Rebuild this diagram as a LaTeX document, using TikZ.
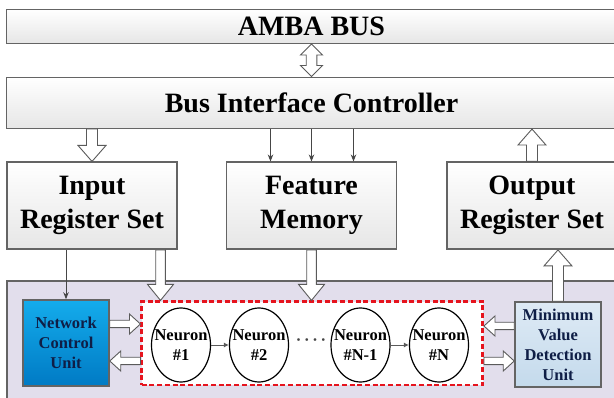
\documentclass[tikz,border=0pt]{standalone}
\usepackage{fontspec}
\setmainfont{Liberation Serif}
\usetikzlibrary{arrows.meta,calc,shapes.geometric}

\definecolor{boxline}{RGB}{100,100,100}
\definecolor{boxgray}{RGB}{230,230,230}
\definecolor{panelfill}{RGB}{226,222,236}
\definecolor{ncutop}{RGB}{20,172,236}
\definecolor{ncubot}{RGB}{0,122,196}
\definecolor{mvdutop}{RGB}{222,234,245}
\definecolor{mvdubot}{RGB}{196,218,236}
\definecolor{unittext}{RGB}{15,30,70}
\definecolor{dashred}{RGB}{230,20,30}
\definecolor{arrline}{RGB}{90,90,90}
\definecolor{wiregray}{RGB}{70,70,70}

\begin{document}
\begin{tikzpicture}[
  x = 1pt, y = -1pt,
  box/.style = {draw = boxline, line width = 1.5pt, top color = white, bottom color = boxgray,
                font = \bfseries\fontsize{28}{34}\selectfont, align = center, inner sep = 0pt},
  unit/.style = {draw = boxline, line width = 1.5pt, text = unittext, align = center, inner sep = 0pt,
                 font = \bfseries\fontsize{16.5}{20}\selectfont},
  neuron/.style = {draw, ellipse, line width = 1.2pt, fill = white, minimum width = 59pt,
                   minimum height = 74pt, inner xsep = -7pt, inner ysep = 0pt, align = center,
                   font = \bfseries\fontsize{16.5}{20}\selectfont},
  wire/.style = {draw = wiregray, line width = 0.9pt, -{Stealth[length = 7pt, width = 5.5pt]}},
  link/.style = {draw = arrline, line width = 0.9pt, -{Latex[length = 5pt, width = 5pt]}},
  blockarrow/.style n args = {3}{draw = arrline, line width = 0.9pt, fill = white,
    to path = {let \p1 = (\tikztostart), \p2 = (\tikztotarget) in
      ($(\p1)!#1!90:(\p2)$) -- ($(\p2)!#3!(\p1)!#1!-90:(\p1)$)
      -- ($(\p2)!#3!(\p1)!#2!-90:(\p1)$) -- (\p2)
      -- ($(\p2)!#3!(\p1)!#2!90:(\p1)$) -- ($(\p2)!#3!(\p1)!#1!90:(\p1)$)
      -- ($(\p1)!#1!-90:(\p2)$) -- cycle}},
  dblockarrow/.style n args = {3}{draw = arrline, line width = 0.9pt, fill = white,
    to path = {let \p1 = (\tikztostart), \p2 = (\tikztotarget) in
      (\p1) -- ($(\p1)!#3!(\p2)!#2!90:(\p2)$) -- ($(\p1)!#3!(\p2)!#1!90:(\p2)$)
      -- ($(\p2)!#3!(\p1)!#1!-90:(\p1)$) -- ($(\p2)!#3!(\p1)!#2!-90:(\p1)$) -- (\p2)
      -- ($(\p2)!#3!(\p1)!#2!90:(\p1)$) -- ($(\p2)!#3!(\p1)!#1!90:(\p1)$)
      -- ($(\p1)!#3!(\p2)!#1!-90:(\p2)$) -- ($(\p1)!#3!(\p2)!#2!-90:(\p2)$) -- cycle}},
  ]
  \useasboundingbox (0,0) rectangle (614,398);
  \clip (0,0) rectangle (614,398);
  \fill[white] (0,0) rectangle (614,398);

  \node[box, minimum width = 610pt, minimum height = 34pt] (amba) at (311.5,26.3) {AMBA BUS};
  \node[box, minimum width = 610pt, minimum height = 51pt] (bic) at (311.5,102.8) {Bus Interface Controller};
  \node[box, minimum width = 170pt, minimum height = 87pt] (inreg) at (92,205.7) {Input\\Register Set};
  \node[box, minimum width = 170pt, minimum height = 87pt] (feat) at (311.5,205.7) {Feature\\Memory};
  \node[box, minimum width = 170pt, minimum height = 87pt] (outreg) at (532,205.7) {Output\\Register Set};

  \draw[draw = boxline, line width = 1.5pt, fill = panelfill] (7,281) rectangle (620,410);

  \node[unit, top color = ncutop, bottom color = ncubot, minimum width = 86pt, minimum height = 86pt]
    (ncu) at (66,343) {Network\\Control\\Unit};
  \node[draw = dashred, line width = 2.5pt, dash pattern = on 5pt off 2.7pt, fill = white,
        minimum width = 341pt, minimum height = 83.5pt] (pool) at (312.2,343.4) {};
  \node[unit, top color = mvdutop, bottom color = mvdubot, minimum width = 86pt, minimum height = 85pt]
    (mvdu) at (558,344.5) {Minimum\\Value\\Detection\\Unit};

  \node[neuron] (n1) at (181,345) {Neuron\\\#1};
  \node[neuron] (n2) at (259,345) {Neuron\\\#2};
  \node[neuron] (nm) at (360.5,345) {Neuron\\\#N-1};
  \node[neuron] (nn) at (439,345) {Neuron\\\#N};
  \node[text = wiregray, font = \bfseries\fontsize{16.5}{20}\selectfont] (dots) at (311,342) {·\,·\,·\,·};

  \draw[link] (n1) -- (n2);
  \draw[link] (nm) -- (nn);

  \draw[dblockarrow = {5.3pt}{11pt}{11pt}] (amba.south) to (bic.north);
  \draw[blockarrow = {5.5pt}{14pt}{16pt}] (bic.south -| inreg) to (inreg.north);
  \draw[blockarrow = {5.5pt}{14pt}{16pt}] (outreg.north) to (outreg.north |- bic.south);
  \path (bic.south -| feat) coordinate (fm-in);
  \foreach \dx in {-41,0,42}
    \draw[wire] ([xshift = \dx]fm-in) -- ([xshift = \dx]feat.north);

  \draw[wire] (inreg.south -| ncu) -- (ncu.north);
  \path ([xshift = 68.5pt]inreg.south) coordinate (in-b);
  \draw[blockarrow = {4.8pt}{13pt}{16pt}] (in-b) to (in-b |- pool.north);
  \draw[blockarrow = {4.8pt}{13pt}{16pt}] (feat.south) to (feat.south |- pool.north);
  \draw[blockarrow = {5.5pt}{14pt}{16pt}] (mvdu.north) to (mvdu.north |- outreg.south);

  \path ([yshift = 19pt]ncu.east) coordinate (ncu-o)
        ([yshift = -18pt]ncu.east) coordinate (ncu-i);
  \draw[blockarrow = {3.7pt}{10pt}{11pt}] (ncu-o) to (ncu-o -| pool.west);
  \draw[blockarrow = {3.7pt}{10pt}{11pt}] (ncu-i -| pool.west) to (ncu-i);
  \path ([yshift = 18.5pt]mvdu.west) coordinate (mv-o)
        ([yshift = -16.5pt]mvdu.west) coordinate (mv-i);
  \draw[blockarrow = {3.7pt}{10pt}{11pt}] (mv-o) to (mv-o -| pool.east);
  \draw[blockarrow = {3.7pt}{10pt}{11pt}] (mv-i -| pool.east) to (mv-i);
\end{tikzpicture}
\end{document}
